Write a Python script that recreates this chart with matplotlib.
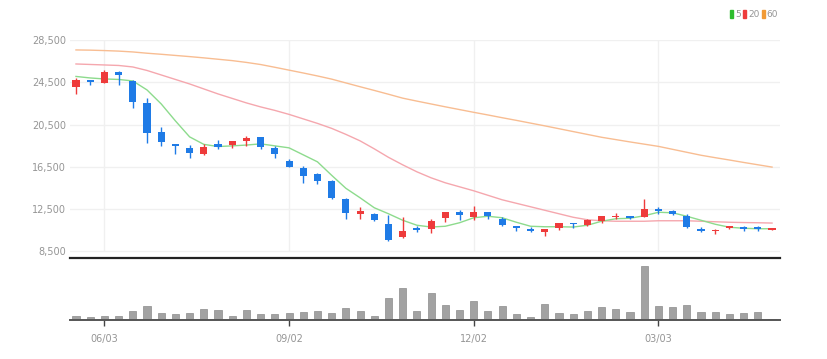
import numpy as np
import pandas as pd
import matplotlib
matplotlib.use('Agg')
import matplotlib.pyplot as plt
from matplotlib.patches import Patch

# weekly candles, first week 2024-05-20
weeks = pd.date_range('2024-05-20', periods=50, freq='W-MON')

opens = [24090, 24720, 24440, 25510, 24630, 22580, 19780, 18680, 18330, 17730,
         18710, 18610, 18990, 19310, 18330, 17010, 16440, 15780, 15150, 13450,
         12070, 12000, 11090, 9870, 10680, 10620, 11660, 12230, 11750, 12190,
         11570, 10870, 10650, 10300, 10740, 11190, 11030, 11340, 11750, 11810,
         11750, 12540, 12320, 11900, 10650, 10430, 10680, 10810, 10770, 10560]
highs = [24880, 24750, 25670, 25570, 24680, 23020, 20280, 18700, 18580, 18680,
         19060, 18960, 19430, 19340, 18490, 17230, 16600, 15940, 15280, 13580,
         12660, 12130, 11970, 11720, 10900, 11570, 12250, 12440, 12820, 12250,
         11720, 10870, 10770, 10650, 11220, 11220, 11590, 11900, 12130, 11840,
         13450, 12700, 12440, 12040, 10770, 10580, 10900, 10870, 10900, 10720]
lows = [23370, 24250, 24400, 24200, 22080, 18800, 18490, 17760, 17330, 17640,
        18180, 18270, 18520, 18210, 17380, 16480, 15020, 14870, 13480, 11570,
        11590, 11400, 9520, 9800, 10370, 10240, 11280, 11430, 11500, 11590,
        10930, 10460, 10340, 9990, 10490, 10740, 10930, 11190, 11570, 11600,
        11720, 12040, 11970, 10720, 10300, 10180, 10650, 10480, 10460, 10560]
closes = [24720, 24530, 25480, 25190, 22600, 19720, 18840, 18460, 17800, 18370,
          18420, 18930, 19270, 18370, 17710, 16510, 15660, 15180, 13510, 12130,
          12280, 11430, 9610, 10390, 10560, 11340, 12230, 11910, 12190, 11810,
          10960, 10720, 10390, 10650, 11150, 11060, 11470, 11880, 11900, 11620,
          12540, 12350, 12000, 10770, 10430, 10560, 10870, 10620, 10580, 10720]

# moving averages as drawn (longer history than shown)
ma5 = [25053, 24911, 24816, 24769, 24628, 23778, 22455, 20850, 19338, 18630,
       18422, 18488, 18564, 18677, 18488, 18300, 17638, 16977, 15702, 14474,
       13577, 12633, 12066, 11452, 10980, 10810, 10885, 11216, 11688, 11829,
       11688, 11263, 10885, 10838, 10838, 10810, 10980, 11357, 11594, 11641,
       11877, 12207, 12160, 11829, 11452, 11074, 10790, 10696, 10649, 10649]
ma20 = [26233, 26186, 26139, 26092, 25950, 25619, 25194, 24769, 24344, 23872,
        23400, 22975, 22550, 22172, 21841, 21464, 21039, 20613, 20141, 19575,
        18961, 18205, 17402, 16694, 16033, 15466, 14994, 14616, 14238, 13813,
        13388, 13057, 12727, 12396, 12066, 11735, 11499, 11405, 11357, 11357,
        11357, 11405, 11405, 11405, 11357, 11310, 11263, 11235, 11216, 11187]
ma60 = [27560, 27540, 27500, 27450, 27370, 27250, 27150, 27040, 26930, 26810,
        26680, 26550, 26380, 26180, 25920, 25650, 25380, 25100, 24800, 24440,
        24080, 23730, 23370, 23000, 22720, 22450, 22180, 21920, 21660, 21410,
        21150, 20900, 20640, 20380, 20110, 19840, 19570, 19300, 19080, 18860,
        18650, 18440, 18160, 17880, 17600, 17370, 17150, 16920, 16700, 16480]

# volume (thousand shares)
volume = [43, 33, 43, 43, 87, 137, 73, 60, 70, 107, 103, 43, 103, 57, 60, 70,
          77, 90, 70, 117, 87, 43, 223, 317, 87, 270, 153, 103, 187, 90, 140,
          60, 33, 157, 70, 60, 90, 133, 107, 77, 533, 140, 130, 153, 77, 77,
          60, 70, 77, 10]

price_ticks = [8500, 12500, 16500, 20500, 24500, 28500]
date_labels = ['06/03', '09/02', '12/02', '03/03']

UP = '#ee3b3b'
DOWN = '#1f7be6'
narrow = ['Liberation Sans Narrow', 'DejaVu Sans']

o = np.array(opens); c = np.array(closes)
h = np.array(highs); l = np.array(lows)
x = np.arange(len(o))
colors = [UP if cc >= oo else DOWN for oo, cc in zip(o, c)]
labels_all = [d.strftime('%m/%d') for d in weeks]
tick_pos = [labels_all.index(s) for s in date_labels]

fig = plt.figure(figsize=(8.27, 3.59), dpi=100)
ax = fig.add_axes([70 / 827, 1 - 258 / 359, 710 / 827, 218 / 359])
axv = fig.add_axes([70 / 827, 1 - 320 / 359, 710 / 827, 58 / 359])

# price panel
ax.set_xlim(-0.42, 49.56)
ax.set_ylim(7882, 28500)
for yv in price_ticks:
    ax.axhline(yv, color='#f0f0f0', lw=1, zorder=0)
ax.vlines(tick_pos, 8500, 28500, color='#f0f0f0', lw=1, zorder=0)

ax.plot(x, ma60, color='#f8bd92', lw=1.0, zorder=2)
ax.plot(x, ma20, color='#f5a7ae', lw=1.0, zorder=2)
ax.plot(x, ma5, color='#8ddb8d', lw=1.0, zorder=2)

ax.vlines(x, l, h, color=colors, lw=1, zorder=3)
body = np.maximum(np.abs(c - o), 60)
ax.bar(x, body, bottom=np.minimum(o, c), width=0.5, color=colors, zorder=4)

ax.set_yticks(price_ticks)
ax.set_yticklabels([f'{v:,}' for v in price_ticks], fontsize=7,
                   color='#959595', family=narrow)
ax.tick_params(axis='y', length=0, pad=3)
ax.set_xticks([])
for s in ['top', 'right', 'left']:
    ax.spines[s].set_visible(False)
ax.spines['bottom'].set_color('#222222')
ax.spines['bottom'].set_linewidth(1.6)

# volume panel
axv.set_xlim(-0.42, 49.56)
axv.set_ylim(0, max(volume) * 1.08)
axv.bar(x, volume, width=0.5, color='#a2a2a2', edgecolor='#8c8c8c', lw=0.5)
axv.set_yticks([])
axv.set_xticks(tick_pos)
axv.set_xticklabels(date_labels, fontsize=7, color='#959595', family=narrow)
axv.tick_params(axis='x', length=4, width=1, color='#444444', pad=6)
for s in ['top', 'right', 'left']:
    axv.spines[s].set_visible(False)
axv.spines['bottom'].set_color('#555555')
axv.spines['bottom'].set_linewidth(1.4)

handles = [Patch(color='#2ebd2e', label='5'),
           Patch(color='#ee3b3b', label='20'),
           Patch(color='#f19a35', label='60')]
leg = fig.legend(handles=handles, loc='upper right', ncol=3, frameon=False,
                 bbox_to_anchor=(778 / 827, 1 - 10 / 359), fontsize=6.5,
                 handlelength=0.3, handleheight=1.0, handletextpad=0.2,
                 columnspacing=0.3, borderaxespad=0, borderpad=0)
for t in leg.get_texts():
    t.set_color('#959595')
    t.set_family(narrow)

fig.savefig('out.png', dpi=100, facecolor='white')
